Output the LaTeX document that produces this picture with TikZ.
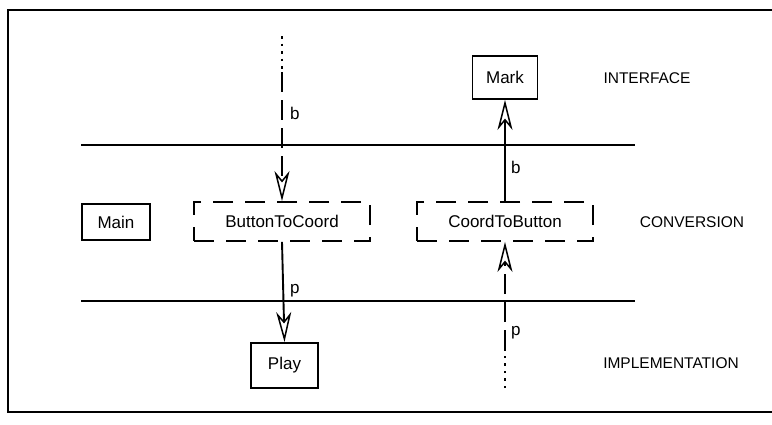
\documentclass[tikz,border=0pt]{standalone}
\usepackage{fontspec}
\setmainfont{Liberation Sans}
\usetikzlibrary{arrows.meta}
\begin{document}
\begin{tikzpicture}[x=1pt,y=-1pt,
  every node/.style={font=\fontsize{17}{20}\selectfont, inner sep=0pt},
  unit/.style={draw, line width=1.9pt, minimum width=#1},
  conv/.style={draw, line width=1.9pt, dash pattern=on 20pt off 12pt, minimum width=176pt, minimum height=39pt},
  layer/.style={font=\fontsize{15.5}{18}\selectfont},
  lbl/.style={anchor=west},
  flow/.style={line width=1.9pt},
  dashflow/.style={line width=1.9pt, dash pattern=on 20pt off 8pt},
  dotflow/.style={line width=2.3pt, dash pattern=on 2.5pt off 5pt},
  head/.style={-{Stealth[open, length=30pt, width=15pt, inset=9pt, line width=1.5pt]}},
  sep/.style={line width=1.8pt}
]
\useasboundingbox (0,0) rectangle (772,424);
\draw[line width=1.8pt] (8,10) rectangle (800,412);
% separators
\coordinate (s1a) at (81,145); \coordinate (s1b) at (635,145);
\coordinate (s2a) at (81,301); \coordinate (s2b) at (635,301);
\draw[sep] (s1a) -- (s1b);
\draw[sep] (s2a) -- (s2b);
% units
\node[unit=65pt, minimum height=43pt] (mark) at (505,77.5) {Mark};
\node[unit=68pt, minimum height=36pt] (main) at (116,222) {Main};
\node[conv] (bc) at (282,221.5) {ButtonToCoord};
\node[conv] (cb) at (505,221.5) {CoordToButton};
\node[unit=67pt, minimum height=45pt] (play) at (284.5,365.5) {Play};
% layer names
\node[layer] (lint) at (647,78) {INTERFACE};
\node[layer] (lcon) at (692,222) {CONVERSION};
\node[layer] (limp) at (671,363) {IMPLEMENTATION};
% left column
\coordinate (lt) at (282,36);
\coordinate (lm) at (282,72);
\draw[dotflow] (lt) -- (lm);
\draw[dashflow, head] (lm) -- (bc.north);
\node[lbl] (lb) at (290,113) {b};
\draw[flow, head] (bc.south) -- (play.north);
\node[lbl] (lp) at (290,291) {p};
% right column
\coordinate (rb) at (505,388);
\coordinate (rm) at (505,350);
\draw[dotflow] (rb) -- (rm);
\draw[dashflow, head] (rm) -- (cb.south);
\node[lbl] (rp) at (511,333) {p};
\draw[flow, head] (cb.north) -- (mark.south);
\node[lbl] (rbl) at (511,167) {b};
\end{tikzpicture}
\end{document}
